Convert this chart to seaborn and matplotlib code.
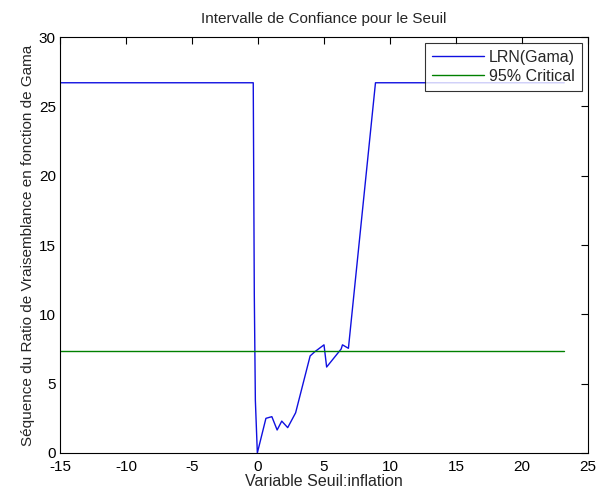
import numpy as np
import pandas as pd
import seaborn as sns
import matplotlib
matplotlib.use('Agg')
import matplotlib.pyplot as plt

# values
gama = [-15, -0.36, -0.33, -0.28, -0.2, -0.05, 0.6, 1.05, 1.45, 1.8, 2.25, 2.85,
        3.95, 4.3, 5.0, 5.2, 6.3, 6.4, 6.85, 8.9, 23.2]
lrn = [26.7, 26.7, 21.0, 11.4, 3.8, 0.0, 2.5, 2.62, 1.66, 2.3, 1.83, 2.9,
       7.0, 7.3, 7.8, 6.2, 7.5, 7.8, 7.55, 26.7, 26.7]
crit_x = [-15, 23.2]
crit_y = [7.35, 7.35]

xticks = [-15, -10, -5, 0, 5, 10, 15, 20, 25]
yticks = [0, 5, 10, 15, 20, 25, 30]

sns.set_style("white")
plt.rcParams['font.family'] = ['Liberation Sans', 'DejaVu Sans']
plt.rcParams['font.size'] = 11
plt.rcParams['axes.unicode_minus'] = False

fig = plt.figure(figsize=(5.98, 5.0), dpi=100)
ax = fig.add_axes([60 / 598, 1 - 453 / 500, 528 / 598, 416 / 500])

lrn_df = pd.DataFrame({'x': gama, 'y': lrn})
crit_df = pd.DataFrame({'x': crit_x, 'y': crit_y})
sns.lineplot(data=lrn_df, x='x', y='y', ax=ax, color='#1010e0', linewidth=1.0,
             estimator=None, sort=False, label='LRN(Gama)')
sns.lineplot(data=crit_df, x='x', y='y', ax=ax, color='#008000', linewidth=1.0,
             estimator=None, sort=False, label='95% Critical')

ax.set_xlim(-15, 25)
ax.set_ylim(0, 30)
ax.set_xticks(xticks)
ax.set_yticks(yticks)
ax.tick_params(direction='in', length=5, width=0.8, top=True, right=True,
               labelsize=11, colors='black', pad=3)
ax.tick_params(axis='x', pad=5)
for s in ax.spines.values():
    s.set_color('black')
    s.set_linewidth(0.8)

ax.set_title('Intervalle de Confiance pour le Seuil', fontsize=11, pad=10)
ax.set_xlabel('Variable Seuil:inflation', fontsize=11.5, labelpad=0)
ax.set_ylabel('Séquence du Ratio de Vraisemblance en fonction de Gama', fontsize=11, labelpad=3)

leg = ax.legend(loc='upper right', fontsize=11.5, frameon=True, fancybox=False,
                borderaxespad=0.35, handlelength=3.3, handletextpad=0.3, borderpad=0.45,
                labelspacing=0.25)
leg.get_frame().set_edgecolor('black')
leg.get_frame().set_linewidth(0.8)

fig.savefig('out.png', dpi=100)
